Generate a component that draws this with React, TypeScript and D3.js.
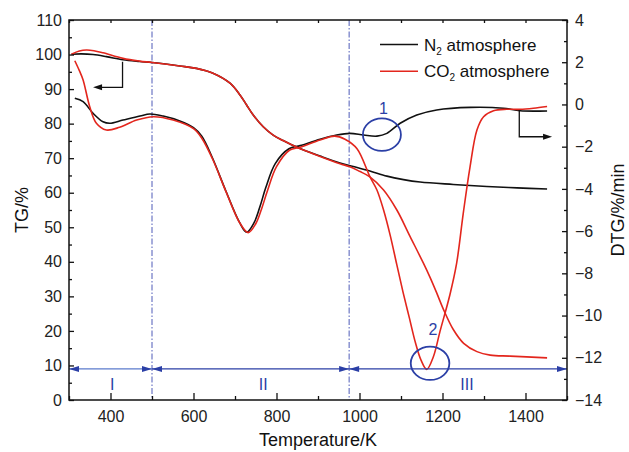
import React, { useEffect, useRef } from "react";
import * as d3 from "d3";

// TG curves, % (left axis), [temperature K, value]
const n2TG: [number, number][] = [
  [306, 100.1], [330, 100.2], [358, 100.0], [390, 99.4], [430, 98.5], [470, 98.0],
  [500, 97.7], [567, 96.7], [607, 96.0], [647, 94.6], [688, 91.7], [712, 88.3],
  [728, 85.4], [744, 82.5], [768, 79.1], [792, 76.7], [816, 75.1], [852, 73.0],
  [905, 70.6], [953, 68.6], [985, 67.6], [1025, 66.3], [1066, 64.8], [1106, 63.8],
  [1146, 63.1], [1226, 62.4], [1307, 61.8], [1380, 61.4], [1452, 61.1],
];

const co2TG: [number, number][] = [
  [306, 100.1], [325, 101.0], [342, 101.3], [360, 101.1], [382, 100.5], [430, 98.9],
  [470, 98.1], [500, 97.7], [567, 96.7], [607, 96.0], [647, 94.6], [688, 91.7],
  [712, 88.3], [728, 85.4], [744, 82.5], [768, 79.1], [792, 76.7], [816, 75.1],
  [852, 73.0], [905, 70.5], [953, 68.4], [977, 67.5], [1000, 66.2], [1025, 64.6],
  [1058, 60.8], [1090, 55.0], [1122, 47.3], [1154, 39.6], [1170, 35.5], [1186, 31.0],
  [1202, 26.3], [1226, 20.4], [1251, 16.4], [1283, 14.0], [1315, 13.0], [1363, 12.7],
  [1452, 12.2],
];

// DTG curves, %/min (right axis)
const n2DTG: [number, number][] = [
  [314, 0.29], [334, 0.13], [358, -0.42], [382, -0.82], [398, -0.89], [430, -0.74],
  [471, -0.55], [495, -0.45], [527, -0.55], [567, -0.78], [600, -1.1], [620, -1.5],
  [645, -2.5], [678, -4.1], [710, -5.55], [728, -6.05], [746, -5.6], [760, -4.85],
  [774, -3.95], [797, -2.8], [830, -2.1], [857, -1.95], [905, -1.65], [945, -1.45],
  [977, -1.37], [1010, -1.45], [1042, -1.5], [1066, -1.37], [1098, -0.89],
  [1138, -0.5], [1186, -0.26], [1267, -0.14], [1347, -0.18], [1387, -0.3], [1452, -0.31],
];

const co2DTG: [number, number][] = [
  [314, 2.07], [325, 1.6], [334, 1.16], [350, -0.11], [366, -0.89], [390, -1.21],
  [422, -1.08], [463, -0.74], [503, -0.58], [551, -0.74], [600, -1.15], [620, -1.6],
  [647, -2.63], [680, -4.21], [712, -5.63], [732, -6.07], [750, -5.65], [764, -4.95],
  [778, -4.1], [800, -2.95], [832, -2.16], [857, -2.03], [905, -1.68], [940, -1.5],
  [965, -1.65], [994, -2.1], [1025, -3.42], [1042, -4.05], [1058, -5.0], [1074, -6.2],
  [1090, -7.6], [1105, -8.9], [1120, -10.1], [1135, -11.3], [1148, -12.1],
  [1162, -12.55], [1178, -11.95], [1194, -10.75], [1218, -9.0], [1234, -7.53],
  [1250, -5.16], [1266, -3.0], [1283, -1.21], [1299, -0.58], [1323, -0.3],
  [1355, -0.23], [1387, -0.23], [1419, -0.18], [1452, -0.1],
];

const tempTicks = [400, 600, 800, 1000, 1200, 1400];
const tempMinor = [300, 500, 700, 900, 1100, 1300, 1500];
const tgTicks = [0, 10, 20, 30, 40, 50, 60, 70, 80, 90, 100, 110];
const tgMinor = [5, 15, 25, 35, 45, 55, 65, 75, 85, 95, 105];
const dtgTicks = [-14, -12, -10, -8, -6, -4, -2, 0, 2, 4];
const dtgMinor = [-13, -11, -9, -7, -5, -3, -1, 1, 3];

// stage boundaries and labels
const stageBounds = [300, 500, 975, 1500];
const stageLine = 9; // TG level of the stage arrows
const stageLabels = [
  { name: "I", t: 404 },
  { name: "II", t: 768 },
  { name: "III", t: 1259 },
];

const series = [
  { name: "N", sub: "2", color: "#111111" },
  { name: "CO", sub: "2", color: "#e3261d" },
];

const BLUE = "#2b3fa6";
const RED = "#e3261d";
const FONT = "'Liberation Sans', Arial, Helvetica, sans-serif";

const App = () => {
  const svgRef = useRef<SVGSVGElement>(null);

  useEffect(() => {
    const svg = d3.select(svgRef.current);
    svg.selectAll("*").remove();

    const width = 629;
    const height = 452;
    const margin = { top: 20, right: 62, bottom: 52, left: 69 };
    const x0 = margin.left;
    const x1 = width - margin.right;
    const y0 = height - margin.bottom;
    const y1 = margin.top;

    const x = d3.scaleLinear().domain([300, 1500]).range([x0, x1]);
    const yL = d3.scaleLinear().domain([0, 110]).range([y0, y1]);
    const yR = d3.scaleLinear().domain([-14, 4]).range([y0, y1]);

    const g = svg.append("g").attr("font-family", FONT);

    // stage separators (dash-dot)
    [stageBounds[1], stageBounds[2]].forEach((t) => {
      g.append("line")
        .attr("x1", x(t))
        .attr("x2", x(t))
        .attr("y1", y1)
        .attr("y2", y0)
        .attr("stroke", "#4f5bb8")
        .attr("stroke-width", 1)
        .attr("stroke-dasharray", "6,2,1.5,2");
    });

    // curves
    const lineL = d3
      .line<[number, number]>()
      .x((d) => x(d[0]))
      .y((d) => yL(d[1]))
      .curve(d3.curveCatmullRom.alpha(0.5));
    const lineR = d3
      .line<[number, number]>()
      .x((d) => x(d[0]))
      .y((d) => yR(d[1]))
      .curve(d3.curveCatmullRom.alpha(0.5));

    const curves = [
      { data: n2DTG, gen: lineR, color: "#111111" },
      { data: n2TG, gen: lineL, color: "#111111" },
      { data: co2DTG, gen: lineR, color: RED },
      { data: co2TG, gen: lineL, color: RED },
    ];
    curves.forEach((c) => {
      g.append("path")
        .datum(c.data)
        .attr("d", c.gen)
        .attr("fill", "none")
        .attr("stroke", c.color)
        .attr("stroke-width", 1.6);
    });

    // arrowhead helper
    const head = (tx: number, ty: number, dir: number, len: number, half: number, color: string) => {
      g.append("path")
        .attr("d", `M${tx},${ty}L${tx - dir * len},${ty - half}L${tx - dir * len},${ty + half}Z`)
        .attr("fill", color);
    };

    // stage arrows
    const ys = yL(stageLine);
    for (let i = 0; i < stageBounds.length - 1; i++) {
      const a = x(stageBounds[i]);
      const b = x(stageBounds[i + 1]);
      const col = i === 0 ? "#5b7bcc" : BLUE;
      g.append("line")
        .attr("x1", a)
        .attr("x2", b)
        .attr("y1", ys)
        .attr("y2", ys)
        .attr("stroke", col)
        .attr("stroke-width", 1.1);
      head(a, ys, -1, 10, 3, BLUE);
      head(b, ys, 1, 10, 3, BLUE);
    }
    stageLabels.forEach((s) => {
      g.append("text")
        .attr("x", x(s.t))
        .attr("y", yL(3))
        .attr("text-anchor", "middle")
        .attr("font-size", 16)
        .attr("fill", BLUE)
        .text(s.name);
    });

    // circled regions
    const marks = [
      { label: "1", t: 1054, v: -1.43, rx: 19, ry: 16.3, lt: 1058, lv: -0.45 },
      { label: "2", t: 1170, v: -12.26, rx: 19.3, ry: 16.7, lt: 1177, lv: -10.92 },
    ];
    marks.forEach((m) => {
      g.append("ellipse")
        .attr("cx", x(m.t))
        .attr("cy", yR(m.v))
        .attr("rx", m.rx)
        .attr("ry", m.ry)
        .attr("fill", "none")
        .attr("stroke", BLUE)
        .attr("stroke-width", 1.8);
      g.append("text")
        .attr("x", x(m.lt))
        .attr("y", yR(m.lv))
        .attr("text-anchor", "middle")
        .attr("font-size", 16)
        .attr("fill", BLUE)
        .text(m.label);
    });

    // axis pointers
    g.append("path")
      .attr("d", `M${x(429)},${yL(97.9)}V${yL(90.5)}H${x(358) + 8}`)
      .attr("fill", "none")
      .attr("stroke", "#111")
      .attr("stroke-width", 1.3);
    head(x(358), yL(90.5), -1, 9, 3, "#111");
    g.append("path")
      .attr("d", `M${x(1385)},${yR(-0.26)}V${yR(-1.53)}H${x(1464) - 8}`)
      .attr("fill", "none")
      .attr("stroke", "#111")
      .attr("stroke-width", 1.3);
    head(x(1464), yR(-1.53), 1, 9, 3, "#111");

    // axes
    const styleAxis = (sel: any) => {
      sel.select(".domain").remove();
      sel.selectAll("line").attr("stroke", "#111").attr("stroke-width", 1.3);
      sel.selectAll("text").attr("font-family", FONT).attr("font-size", 16).attr("fill", "#222");
    };
    const plain = (d: any) => d3.format("d")(d).replace("-", "\u2212");
    const blank = () => "";

    g.append("g")
      .attr("transform", `translate(0,${y0})`)
      .call(d3.axisBottom(x).tickValues(tempTicks).tickSizeInner(-7).tickSizeOuter(0).tickPadding(11).tickFormat(plain))
      .call(styleAxis);
    g.append("g")
      .attr("transform", `translate(0,${y0})`)
      .call(d3.axisBottom(x).tickValues(tempMinor).tickSizeInner(-4).tickSizeOuter(0).tickFormat(blank))
      .call(styleAxis);
    g.append("g")
      .attr("transform", `translate(0,${y1})`)
      .call(d3.axisTop(x).tickValues([...tempTicks, ...tempMinor]).tickSizeInner(-3).tickSizeOuter(0).tickFormat(blank))
      .call(styleAxis);

    g.append("g")
      .attr("transform", `translate(${x0},0)`)
      .call(d3.axisLeft(yL).tickValues(tgTicks).tickSizeInner(-5).tickSizeOuter(0).tickPadding(7).tickFormat(plain))
      .call(styleAxis);
    g.append("g")
      .attr("transform", `translate(${x0},0)`)
      .call(d3.axisLeft(yL).tickValues(tgMinor).tickSizeInner(-3).tickSizeOuter(0).tickFormat(blank))
      .call(styleAxis);

    g.append("g")
      .attr("transform", `translate(${x1},0)`)
      .call(d3.axisRight(yR).tickValues(dtgTicks).tickSizeInner(-5).tickSizeOuter(0).tickPadding(8).tickFormat(plain))
      .call(styleAxis);
    g.append("g")
      .attr("transform", `translate(${x1},0)`)
      .call(d3.axisRight(yR).tickValues(dtgMinor).tickSizeInner(-3).tickSizeOuter(0).tickFormat(blank))
      .call(styleAxis);

    // frame
    g.append("rect")
      .attr("x", x0)
      .attr("y", y1)
      .attr("width", x1 - x0)
      .attr("height", y0 - y1)
      .attr("fill", "none")
      .attr("stroke", "#111")
      .attr("stroke-width", 1.5);

    // axis titles
    g.append("text")
      .attr("x", (x0 + x1) / 2)
      .attr("y", 446)
      .attr("text-anchor", "middle")
      .attr("font-size", 18)
      .attr("fill", "#111")
      .text("Temperature/K");
    g.append("text")
      .attr("transform", `translate(28,${(y0 + y1) / 2}) rotate(-90)`)
      .attr("text-anchor", "middle")
      .attr("font-size", 18)
      .attr("fill", "#111")
      .text("TG/%");
    g.append("text")
      .attr("transform", `translate(624,${(y0 + y1) / 2}) rotate(-90)`)
      .attr("text-anchor", "middle")
      .attr("font-size", 18)
      .attr("fill", "#111")
      .text("DTG/%/min");

    // legend
    series.forEach((s, i) => {
      const ly = 44.5 + i * 26.7;
      g.append("line")
        .attr("x1", 380)
        .attr("x2", 418)
        .attr("y1", ly)
        .attr("y2", ly)
        .attr("stroke", s.color)
        .attr("stroke-width", 1.6);
      const t = g.append("text")
        .attr("x", 424)
        .attr("y", ly + 6)
        .attr("font-size", 17)
        .attr("fill", "#111");
      t.append("tspan").text(s.name);
      t.append("tspan").attr("font-size", 10).attr("dy", 4).text(s.sub);
      t.append("tspan").attr("dy", -4).text(" atmosphere");
    });
  }, []);

  return (
    <div style={{ position: "absolute", left: 0, top: 0 }}>
      <svg ref={svgRef} width={629} height={452} style={{ display: "block", background: "#fff" }}></svg>
    </div>
  );
};

export default App;
